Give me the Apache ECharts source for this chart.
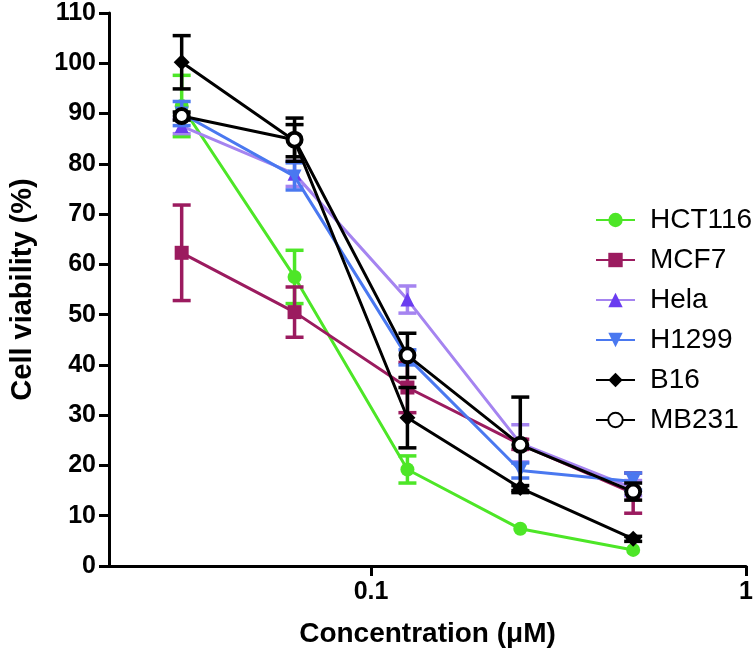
<!DOCTYPE html>
<html>
<head>
<meta charset="utf-8">
<script src="https://cdn.jsdelivr.net/npm/echarts@6/dist/echarts.min.js"></script>
<style>html,body{margin:0;padding:0;background:#fff;}#main{width:756px;height:653px;}</style>
</head>
<body>
<div id="main"></div>
<script>
var concentrations = [0.03125, 0.0625, 0.125, 0.25, 0.5];
var seriesNames = ['HCT116', 'MCF7', 'Hela', 'H1299', 'B16', 'MB231'];
var hct116 = [91.5, 57.5, 19.2, 7.4, 3.2];
var hct116Err = [6.1, 5.3, 2.7, 0, 0];
var mcf7 = [62.3, 50.5, 35.5, 24.2, 14.5];
var mcf7Err = [9.5, 5.0, 5.0, 1.0, 4.0];
var hela = [87.5, 78.0, 53.0, 24.4, 15.5];
var helaErr = [1.5, 2.5, 2.7, 3.7, 1.5];
var h1299 = [90.0, 77.5, 41.5, 19.0, 16.8];
var h1299Err = [2.4, 2.7, 1.5, 1.5, 1.7];
var b16 = [100.2, 84.6, 29.5, 15.5, 5.4];
var b16Err = [5.3, 3.2, 6.0, 0.5, 0.5];
var mb231 = [89.5, 84.8, 41.9, 24.1, 14.8];
var mb231Err = [0.8, 4.3, 4.4, 9.5, 1.7];
var yTicks = [0, 10, 20, 30, 40, 50, 60, 70, 80, 90, 100, 110];
var xTickLabels = [0.1, 1];

var FONT = "'Liberation Sans', Arial, sans-serif";
var values = [hct116, mcf7, hela, h1299, b16, mb231];
var errs = [hct116Err, mcf7Err, helaErr, h1299Err, b16Err, mb231Err];
var styles = [
  {line: '#4de627', mark: '#4de627', err: '#4de627', symbol: 'circle', size: 14, rot: 0},
  {line: '#9b1b5f', mark: '#9b1b5f', err: '#9b1b5f', symbol: 'rect', size: 14, rot: 0},
  {line: '#a584f0', mark: '#6a3cf0', err: '#a584f0', symbol: 'triangle', size: 14, rot: 0},
  {line: '#4a78f0', mark: '#4a78f0', err: '#4a78f0', symbol: 'triangle', size: 14, rot: 180},
  {line: '#000000', mark: '#000000', err: '#000000', symbol: 'diamond', size: 16, rot: 0},
  {line: '#000000', mark: '#000000', err: '#000000', symbol: 'circle', size: 14, rot: 0, hollow: true}
];

var series = [];
seriesNames.forEach(function (name, i) {
  var st = styles[i];
  var errData = concentrations.map(function (c, j) { return [c, values[i][j], errs[i][j]]; });
  series.push({
    name: name + ' error',
    type: 'custom',
    z: 2 + i * 2,
    silent: true,
    encode: {x: 0, y: 1},
    data: errData,
    renderItem: function (params, api) {
      var x = api.value(0), y = api.value(1), e = api.value(2);
      if (!e) return null;
      var top = api.coord([x, y + e]);
      var bot = api.coord([x, y - e]);
      var cw = 9;
      var s = {stroke: st.err, lineWidth: 3.5};
      return {
        type: 'group',
        children: [
          {type: 'line', shape: {x1: top[0], y1: top[1], x2: bot[0], y2: bot[1]}, style: s},
          {type: 'line', shape: {x1: top[0] - cw, y1: top[1], x2: top[0] + cw, y2: top[1]}, style: s},
          {type: 'line', shape: {x1: bot[0] - cw, y1: bot[1], x2: bot[0] + cw, y2: bot[1]}, style: s}
        ]
      };
    }
  });
  series.push({
    name: name,
    type: 'line',
    z: 3 + i * 2,
    data: concentrations.map(function (c, j) { return [c, values[i][j]]; }),
    symbol: st.symbol,
    symbolSize: st.size,
    symbolRotate: st.rot,
    showAllSymbol: true,
    lineStyle: {color: st.line, width: 3},
    itemStyle: st.hollow
      ? {color: '#ffffff', borderColor: '#000000', borderWidth: 4}
      : {color: st.mark, borderColor: st.mark, borderWidth: 0},
    emphasis: {disabled: true},
    animation: false
  });
});

var chart = echarts.init(document.getElementById('main'), null, {renderer: 'canvas'});
chart.setOption({
  animation: false,
  backgroundColor: '#fff',
  grid: {left: 100, right: 7, top: 13, bottom: 87, containLabel: false},
  legend: {
    data: seriesNames,
    orient: 'vertical',
    left: 590,
    top: 200,
    itemWidth: 39,
    itemHeight: 18,
    itemGap: 10,
    textStyle: {fontFamily: FONT, fontSize: 28, color: '#000', lineHeight: 30, padding: [0, 0, 0, 10]},
    selectedMode: false
  },
  xAxis: {
    type: 'log',
    logBase: 10,
    min: 0.02,
    max: 1,
    name: 'Concentration (μM)',
    nameLocation: 'middle',
    nameGap: 54,
    nameTextStyle: {fontFamily: FONT, fontSize: 28, fontWeight: 'bold', color: '#000'},
    axisLine: {lineStyle: {color: '#000', width: 3}},
    axisTick: {show: true, length: 10, lineStyle: {color: '#000', width: 3}, customValues: xTickLabels},
    axisLabel: {fontFamily: FONT, fontSize: 25, fontWeight: 'bold', color: '#000', margin: 14, customValues: xTickLabels,
      formatter: function (v) { return String(v); }},
    splitLine: {show: false},
    minorTick: {show: false}
  },
  yAxis: {
    type: 'value',
    min: 0,
    max: 110,
    interval: 10,
    name: 'Cell viability (%)',
    nameLocation: 'middle',
    nameGap: 72,
    nameTextStyle: {fontFamily: FONT, fontSize: 29, fontWeight: 'bold', color: '#000'},
    axisLine: {show: true, lineStyle: {color: '#000', width: 3}},
    axisTick: {show: true, length: 10, lineStyle: {color: '#000', width: 3}, customValues: yTicks},
    axisLabel: {fontFamily: FONT, fontSize: 25, fontWeight: 'bold', color: '#000', margin: 13, customValues: yTicks},
    splitLine: {show: false}
  },
  series: series
});
</script>
</body>
</html>
